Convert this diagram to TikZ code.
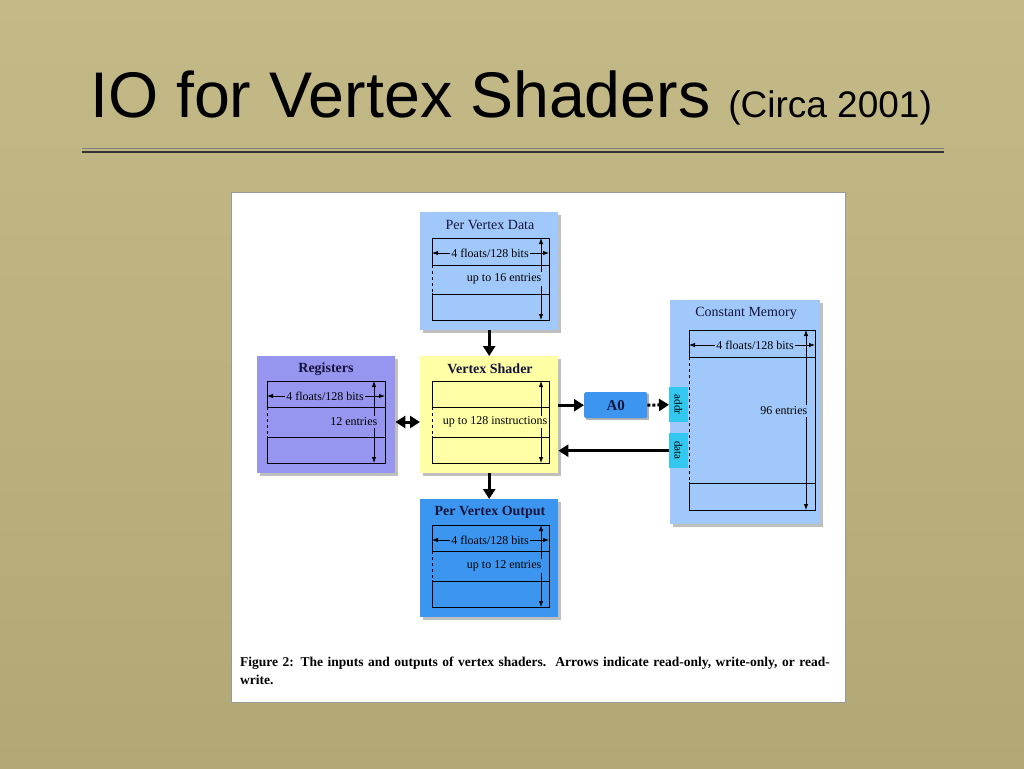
\documentclass[tikz,border=0pt]{standalone}
\usepackage{fontspec}
\setmainfont{Liberation Serif}
\newfontfamily\titlefont{Liberation Sans}
\usetikzlibrary{arrows.meta,calc}
\definecolor{bgA}{RGB}{196,186,136}
\definecolor{bgB}{RGB}{178,168,118}
\definecolor{lblue}{RGB}{160,200,250}
\definecolor{dblue}{RGB}{60,150,240}
\definecolor{yel}{RGB}{255,255,165}
\definecolor{purp}{RGB}{150,150,240}
\definecolor{cyanb}{RGB}{50,200,240}
\definecolor{ink}{RGB}{20,20,60}
\tikzset{
  box/.style={draw=none,inner sep=0pt,anchor=north west},
  thinln/.style={line width=0.9pt,black},
  dimd/.style={line width=0.8pt,{Latex[length=6pt,width=4.5pt]}-{Latex[length=6pt,width=4.5pt]}},
  flow/.style={line width=3pt,-{Triangle[length=10pt,width=12pt]}},
  lbl/.style={font=\fontsize{12}{12}\selectfont,inner sep=1.5pt},
  ttl/.style={font=\fontsize{14}{14}\selectfont,text=ink},
}
\begin{document}
\begin{tikzpicture}[x=1pt,y=-1pt]
\useasboundingbox (0,0) rectangle (1024,768);
\shade[top color=bgA,bottom color=bgB] (0,0) rectangle (1024,768);
\node[anchor=base west,inner sep=0pt,font=\titlefont\fontsize{64.5}{64.5}\selectfont] (title) at (90,117) {IO for Vertex Shaders \fontsize{37}{37}\selectfont(Circa 2001)};
\coordinate (r1) at (82,152); \coordinate (r2) at (944,152);
\draw[line width=2.5pt,black!80] (r1) -- (r2);
\draw[line width=1pt,black!50] ([yshift=3.5pt]r1) -- ([yshift=3.5pt]r2);
% white panel
\node[box,fill=white,minimum width=614pt,minimum height=510pt,draw=black!40,line width=0.4pt] (panel) at (231,192) {};
\node[anchor=north west,text width=600pt,inner sep=0pt,font=\bfseries\fontsize{13.5}{18}\selectfont] (cap) at (240,657)
 {Figure 2: The inputs and outputs of vertex shaders.\ \ Arrows indicate read-only, write-only, or read-write.};
\newcommand{\tbl}[8]{%
  \draw[thinln] (#1,#3) rectangle (#2,#6);
  \draw[thinln] (#1,#4) -- (#2,#4) (#1,#5) -- (#2,#5);
  \fill[#8] ($(#1,#4)+(-0.2,0.6)$) rectangle ($(#2,#5)+(0.2,-0.6)$);
  \draw[line width=0.6pt,dashed] (#1,#4) -- (#1,#5) (#2,#4) -- (#2,#5);
  \draw[dimd] (#7,#3) -- (#7,#6);
}
% boxes
\fill[black!25] (423,215) rectangle (561,333);
\node[box,fill=lblue,minimum width=138pt,minimum height=118pt] (pvd) at (420,212) {};
\node[ttl] at (490,225) {Per Vertex Data};
\tbl{432}{549}{238}{265}{294}{320}{541}{lblue}
\draw[dimd] (432,253) -- (549,253);
\node[lbl,fill=lblue] at (490,253) {4 floats/128 bits};
\node[lbl,fill=lblue,anchor=east] at (543,279) {up to 16 entries};

\fill[black!25] (423,359) rectangle (561,476);
\node[box,fill=yel,minimum width=138pt,minimum height=117pt] (vs) at (420,356) {};
\node[ttl,font=\bfseries\fontsize{14}{14}\selectfont] at (490,369) {Vertex Shader};
\tbl{432}{549}{381}{407}{437}{463}{541}{yel}
\node[lbl,fill=yel,anchor=east,inner sep=0.5pt] at (548,422) {up to 128 instructions};

\fill[black!25] (260,359) rectangle (398,476);
\node[box,fill=purp,minimum width=138pt,minimum height=117pt] (reg) at (257,356) {};
\node[ttl,font=\bfseries\fontsize{14}{14}\selectfont] at (326,369) {Registers};
\tbl{267}{385}{381}{407}{437}{463}{374}{purp}
\draw[dimd] (267,396) -- (385,396);
\node[lbl,fill=purp] at (325,396) {4 floats/128 bits};
\node[lbl,fill=purp,anchor=east] at (379,422) {12 entries};

\fill[black!25] (423,502) rectangle (561,620);
\node[box,fill=dblue,minimum width=138pt,minimum height=118pt] (pvo) at (420,499) {};
\node[ttl,font=\bfseries\fontsize{14}{14}\selectfont] at (490,512) {Per Vertex Output};
\tbl{432}{549}{525}{551}{581}{607}{541}{dblue}
\draw[dimd] (432,540) -- (549,540);
\node[lbl,fill=dblue] at (490,540) {4 floats/128 bits};
\node[lbl,fill=dblue,anchor=east] at (543,566) {up to 12 entries};

\fill[black!25] (673,303) rectangle (823,527);
\node[box,fill=lblue,minimum width=150pt,minimum height=224pt] (cm) at (670,300) {};
\node[ttl] at (746,313) {Constant Memory};
\tbl{689}{815}{330}{357}{483}{510}{806}{lblue}
\draw[dimd] (689,345) -- (815,345);
\node[lbl,fill=lblue] at (755,345) {4 floats/128 bits};
\node[lbl,fill=lblue,anchor=east] at (809,411) {96 entries};

\node[box,fill=cyanb,minimum width=19pt,minimum height=35pt] (addr) at (669,387) {};
\node[lbl,rotate=-90,font=\fontsize{11}{11}\selectfont] at (678.5,404.5) {addr};
\node[box,fill=cyanb,minimum width=19pt,minimum height=35pt] (data) at (669,433) {};
\node[lbl,rotate=-90,font=\fontsize{11}{11}\selectfont] at (678.5,450.5) {data};

\fill[black!30] (586,394) rectangle (649,420);
\node[box,fill=dblue,minimum width=63pt,minimum height=26pt,rounded corners=1.5pt] (a0) at (584,392) {};
\node[ttl,font=\bfseries\fontsize{15}{15}\selectfont] at (a0.center) {A0};

% connectors
\draw[flow] (pvd.south) -- (vs.north);
\draw[flow] (vs.south) -- (pvo.north);
\draw[flow] (vs.east |- a0.west) -- (a0.west);
\draw[flow,dotted,line width=3pt] (a0.east) -- (addr.west);
\draw[flow] (data.west) -- (vs.east |- data.west);
\draw[line width=3pt,{Triangle[length=10pt,width=12pt]}-{Triangle[length=10pt,width=12pt]}] (reg.east |- 0,422) -- (vs.west |- 0,422);
\end{tikzpicture}
\end{document}
